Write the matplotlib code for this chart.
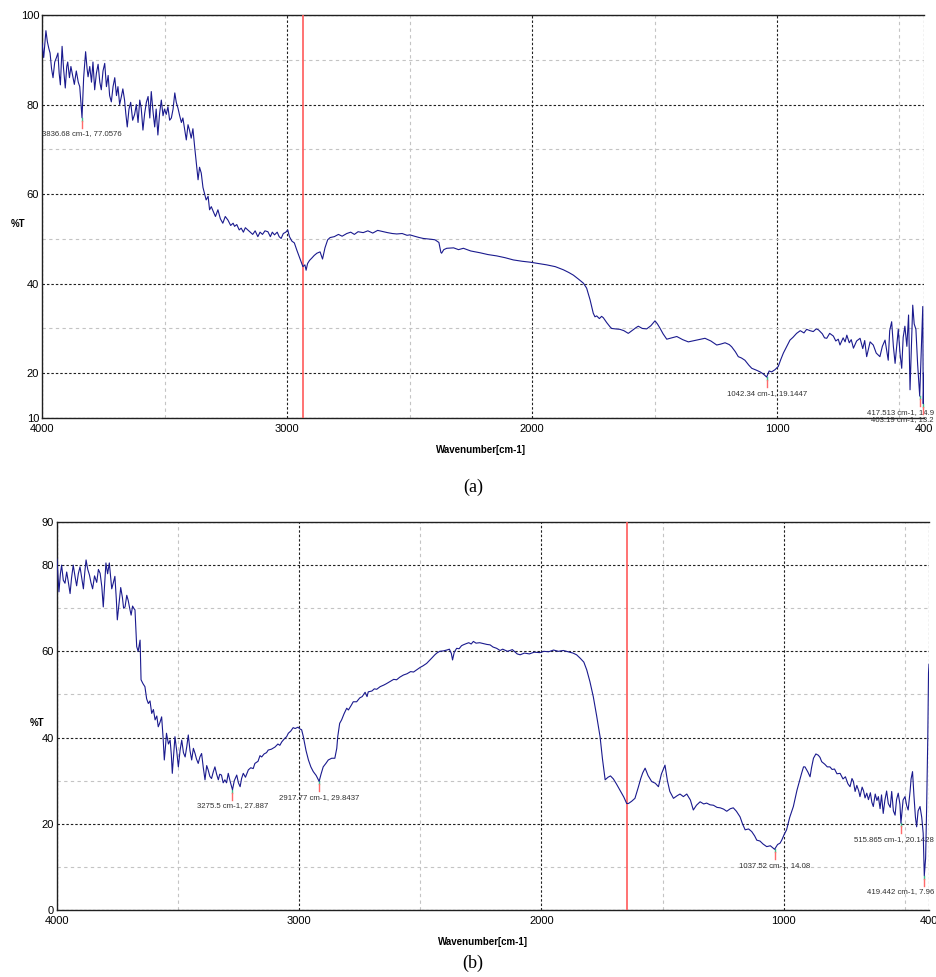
import matplotlib
matplotlib.use("Agg")
import matplotlib.pyplot as plt
import numpy as np

# spectrum (a): wavenumber [cm-1] and %T
wn_a = [4000, 3993, 3984, 3978, 3972, 3967, 3961, 3955, 3948, 3941, 3935, 3930, 3925, 3918, 3912,
        3905, 3899, 3895, 3888, 3882, 3875, 3868, 3860, 3852, 3846, 3836.68, 3830, 3822, 3816, 3812,
        3805, 3798, 3792, 3785, 3778, 3771, 3764, 3758, 3751, 3744, 3737, 3730, 3724, 3717, 3710,
        3703, 3696, 3690, 3683, 3676, 3670, 3663, 3658, 3652, 3645, 3638, 3630, 3622, 3615, 3608,
        3601, 3595, 3588, 3581, 3574, 3567, 3560, 3554, 3547, 3540, 3534, 3527, 3520, 3513, 3506,
        3500, 3493, 3486, 3479, 3472, 3465, 3458, 3452, 3445, 3438, 3431, 3425, 3418, 3411, 3404,
        3398, 3391, 3384, 3377, 3370, 3363, 3357, 3350, 3343, 3336, 3330, 3322, 3316, 3309, 3300,
        3292, 3282, 3272, 3262, 3252, 3241, 3230, 3220, 3214, 3205, 3195, 3187, 3178, 3170, 3160,
        3150, 3140, 3130, 3119, 3110, 3100, 3090, 3078, 3068, 3060, 3051, 3040, 3032, 3024, 3015,
        3005, 2997, 2990, 2980, 2970, 2960, 2950, 2940, 2935, 2927, 2922, 2916, 2908, 2899, 2889,
        2878, 2865, 2855, 2845, 2834, 2824, 2807, 2790, 2775, 2756, 2740, 2725, 2710, 2689, 2670,
        2650, 2630, 2607, 2590, 2570, 2552, 2530, 2510, 2498, 2480, 2460, 2444, 2425, 2410, 2396,
        2380, 2372, 2369, 2360, 2348, 2320, 2300, 2280, 2250, 2230, 2212, 2180, 2144, 2110, 2076,
        2040, 2008, 1975, 1940, 1905, 1872, 1850, 1831, 1810, 1790, 1777, 1763, 1750, 1743, 1736,
        1725, 1716, 1709, 1695, 1682, 1675, 1660, 1641, 1625, 1607, 1590, 1575, 1566, 1550, 1532,
        1515, 1498, 1488, 1478, 1465, 1450, 1430, 1409, 1385, 1362, 1345, 1328, 1310, 1294, 1270,
        1246, 1230, 1212, 1195, 1185, 1170, 1158, 1145, 1131, 1115, 1103, 1085, 1069, 1055, 1042.34,
        1032, 1022, 1008, 995, 985, 974, 960, 947, 935, 920, 905, 890, 879, 865, 852,
        840, 831, 815, 806, 797, 785, 770, 760, 750, 743, 730, 722, 715, 705, 697,
        688, 675, 661, 650, 642, 634, 620, 607, 595, 580, 570, 559, 546, 540, 532,
        525, 518, 510, 505, 498, 491, 485, 478, 470, 463, 457, 452, 446, 440, 433,
        426, 417.513, 411, 405, 403.19, 400]
t_a = [93.7, 90.5, 96.5, 94, 92.5, 91.5, 88, 86, 89.5, 90.5, 91.5, 87, 84.4, 93, 88,
       83.7, 88.5, 89.5, 86, 88.5, 86.5, 84.5, 87.5, 85, 84, 77.0576, 86, 91.8, 88, 86.2,
       88.5, 85, 89.5, 83.3, 87, 89, 85, 83.3, 87.5, 89.2, 84, 86.5, 82, 80.6, 84,
       86, 82, 84, 80, 81.8, 83.5, 81, 78, 75, 79, 80.5, 76.5, 77.8, 80, 76,
       81, 79.2, 74.3, 78, 80.5, 81.8, 77, 82.9, 78.5, 75, 79, 73.2, 78, 81, 77.5,
       79, 77.8, 79.5, 76.5, 77, 79, 82.6, 80.5, 79.2, 77.5, 76, 77, 74.5, 72.1, 75.5,
       74.3, 72.5, 74.6, 70.6, 67, 63.2, 66, 64.7, 61.5, 60, 58.7, 59.5, 56.5, 57.2, 56,
       55, 56.5, 54.5, 53.5, 55, 54.2, 53, 53.5, 52.8, 53.2, 52, 52.4, 51.5, 52.5, 52,
       51.5, 51, 51.8, 50.5, 51.5, 51, 51.8, 51.6, 50.5, 51.5, 50.9, 51.5, 50.5, 50.1, 51.2,
       51.5, 52, 50.5, 49.5, 49.1, 47.5, 46, 44.5, 43.8, 44.2, 43, 44.5, 45.2, 45.7, 46.3,
       46.8, 47.1, 45.5, 48, 49.8, 50.3, 50.5, 51, 50.6, 51.2, 51.5, 51, 51.6, 51.4, 51.8,
       51.3, 51.9, 51.6, 51.4, 51.2, 51.1, 51.2, 50.8, 50.9, 50.6, 50.3, 50.1, 50, 49.9, 49.8,
       49.2, 47, 46.8, 47.6, 47.9, 48, 47.6, 47.9, 47.3, 47.1, 46.9, 46.5, 46.2, 45.8, 45.3,
       45, 44.8, 44.5, 44.2, 43.8, 43.1, 42.5, 41.9, 41, 40.1, 39, 36.4, 33.4, 32.6, 32.8,
       32.2, 32.7, 32.4, 31.3, 30.4, 30, 29.9, 29.8, 29.5, 28.9, 29.6, 30.2, 30.5, 30, 29.9,
       30.6, 31.7, 31, 30.1, 28.8, 27.6, 27.9, 28.2, 27.5, 27, 27.2, 27.4, 27.6, 27.8, 27.2,
       26.3, 26.5, 26.8, 26.4, 25.9, 24.8, 23.7, 23.4, 22.9, 21.8, 21.1, 20.7, 20.3, 19.8, 19.1447,
       20.5, 20.3, 20.8, 21.5, 23, 24.5, 26, 27.4, 28, 28.9, 29.5, 29, 29.8, 29.5, 29.3,
       29.9, 29.7, 28.8, 27.9, 27.8, 28.9, 28.3, 27.2, 27.6, 26.3, 27.9, 27, 28.5, 26.8, 27.5,
       25.6, 27.2, 27.8, 25.5, 27.3, 23.7, 27, 26.3, 24.5, 23.7, 26, 27.4, 22.9, 29.5, 31.5,
       26, 22.2, 27, 29.8, 24.5, 21.1, 28, 30.5, 26, 33, 16.3, 25, 35.2, 31, 29.8,
       22, 14.9, 25, 34.9, 13.2, 20]

# spectrum (b)
wn_b = [4000, 3992, 3986, 3981, 3974, 3967, 3960, 3953, 3946, 3940, 3933, 3926, 3919, 3912, 3905,
        3898, 3891, 3885, 3880, 3873, 3866, 3860, 3853, 3845, 3836, 3829, 3822, 3815, 3809, 3803,
        3798, 3791, 3784, 3778, 3774, 3767, 3761, 3755, 3751, 3744, 3737, 3730, 3725, 3719, 3712,
        3706, 3700, 3694, 3688, 3682, 3678, 3671, 3665, 3657, 3653, 3645, 3637, 3630, 3623, 3616,
        3609, 3602, 3595, 3588, 3582, 3575, 3568, 3562, 3557, 3552, 3548, 3540, 3533, 3528, 3524,
        3518, 3513, 3506, 3499, 3492, 3485, 3478, 3471, 3464, 3458, 3451, 3444, 3437, 3430, 3424,
        3417, 3410, 3403, 3396, 3389, 3382, 3376, 3369, 3362, 3355, 3348, 3341, 3334, 3328, 3321,
        3314, 3307, 3300, 3293, 3285, 3275.5, 3268, 3258, 3251, 3244, 3238, 3231, 3222, 3210, 3200,
        3190, 3183, 3170, 3162, 3155, 3145, 3135, 3128, 3115, 3100, 3088, 3080, 3072, 3060, 3052,
        3045, 3035, 3025, 3017, 3005, 2997, 2990, 2983, 2972, 2962, 2952, 2942, 2930, 2917.77, 2910,
        2901, 2890, 2880, 2866, 2853, 2845, 2841, 2833, 2825, 2815, 2804, 2797, 2785, 2777, 2763,
        2750, 2740, 2728, 2720, 2715, 2700, 2690, 2680, 2666, 2650, 2640, 2625, 2610, 2598, 2585,
        2570, 2555, 2540, 2528, 2515, 2500, 2490, 2474, 2460, 2450, 2440, 2432, 2420, 2405, 2391,
        2380, 2372, 2367, 2360, 2350, 2340, 2330, 2323, 2310, 2300, 2290, 2281, 2270, 2255, 2240,
        2225, 2212, 2200, 2185, 2171, 2160, 2140, 2120, 2100, 2088, 2070, 2050, 2030, 2006, 1990,
        1970, 1950, 1930, 1910, 1890, 1870, 1855, 1840, 1825, 1813, 1800, 1786, 1772, 1758, 1748,
        1737, 1725, 1715, 1703, 1690, 1676, 1660, 1648, 1641, 1628, 1614, 1600, 1590, 1582, 1572,
        1560, 1545, 1530, 1517, 1505, 1490, 1480, 1470, 1455, 1440, 1428, 1414, 1400, 1385, 1373,
        1360, 1345, 1330, 1318, 1304, 1290, 1275, 1262, 1248, 1235, 1220, 1208, 1195, 1180, 1170,
        1159, 1145, 1132, 1120, 1111, 1098, 1085, 1070, 1055, 1037.52, 1025, 1015, 1008, 998, 988,
        975, 960, 945, 926, 918, 912, 900, 891, 885, 877, 867, 857, 850, 843, 830,
        820, 809, 800, 790, 780, 767, 755, 745, 735, 726, 718, 712, 705, 698, 690,
        685, 676, 670, 664, 657, 650, 642, 636, 630, 622, 615, 609, 602, 596, 589,
        582, 575, 568, 560, 554, 547, 540, 534, 527, 520, 515.865, 507, 499, 492, 486,
        478, 474, 468, 462, 456, 451, 445, 437, 430, 424, 419.442, 414, 410, 405, 402,
        400]
t_b = [81.4, 73.8, 78, 80, 76.5, 75.8, 78.4, 76, 73.4, 77, 80, 77.5, 75.2, 78, 79.6,
       77, 74.5, 78.5, 81.2, 79, 77.7, 76, 74.5, 77.5, 76, 79, 78.1, 75, 70.3, 76,
       80.5, 78, 80.5, 77, 74.5, 76, 77.4, 72, 67.3, 71, 74.8, 72.5, 70, 70.3, 73,
       71.8, 70, 68.4, 70.5, 69.9, 69.6, 61.1, 60, 62.6, 53.4, 52.5, 51.8, 49, 47.9, 48.5,
       45.6, 46.5, 44.1, 45, 42.5, 43.5, 44.8, 40, 34.8, 38, 41, 38.5, 39.4, 36, 31.7,
       36.5, 40.2, 37, 33.2, 37, 39.4, 36.5, 35.5, 38, 40.6, 37, 34.8, 37.5, 36.3, 35,
       34, 35.5, 36.3, 33, 30.2, 33.5, 32.5, 31, 30.5, 32, 33.2, 31.5, 30.2, 31.5, 31.3,
       29.5, 30.2, 29.5, 31.7, 29.8, 27.887, 30, 31.3, 29.5, 28.6, 30.5, 31.7, 30.8, 32.5, 33,
       32.8, 34, 34.5, 35.8, 35.5, 36.2, 36.5, 37.1, 37.3, 37.8, 38.5, 38.2, 39, 39.8, 40.2,
       41, 41.5, 42.3, 42.1, 42.4, 42, 41.8, 40.2, 37, 34.8, 33.2, 32.1, 31.2, 29.8437, 31.5,
       33.2, 34, 34.8, 35.2, 35.2, 37.5, 40.2, 43.3, 44.1, 45.5, 46.8, 46.4, 47.5, 48.3, 48.3,
       49.2, 49.5, 50.5, 49.5, 50.6, 50.8, 51.3, 51.2, 51.8, 52.2, 52.5, 53, 53.5, 53.4, 54,
       54.5, 54.8, 55.3, 55.2, 55.7, 56.3, 56.6, 57.2, 58, 58.6, 59.2, 59.6, 60, 60.1, 60.3,
       60.5, 59.5, 58, 59.8, 60.7, 60.6, 61.3, 61.5, 61.8, 62, 61.7, 62.3, 61.9, 62, 61.8,
       61.6, 61.5, 61, 60.7, 60.2, 60.5, 60, 60.4, 59.4, 59.2, 59.6, 59.4, 59.8, 59.7, 60,
       59.9, 60.3, 60, 60.2, 59.9, 59.6, 59.2, 58.4, 57.5, 55.7, 53, 49.5, 45, 40.2, 35,
       30.2, 30.8, 31.1, 30.4, 29.2, 27.8, 26.2, 24.7, 24.7, 25.2, 25.9, 28.5, 30.5, 31.8, 32.9,
       31.2, 29.8, 29.4, 28.6, 31.5, 33.6, 30, 27.5, 25.9, 26.5, 26.9, 26.3, 26.9, 25.5, 23.2,
       24.3, 25.1, 24.6, 24.8, 24.4, 24.3, 23.8, 23.7, 23.4, 22.9, 23.5, 23.7, 22.9, 21.6, 20,
       18.6, 18.8, 18.2, 17.2, 16.2, 16, 15.3, 14.7, 14.9, 14.08, 15.2, 15.5, 16.2, 17.5, 18.6,
       21.5, 24, 27.8, 31.7, 33.2, 33.2, 32, 30.9, 33, 35.2, 36.2, 35.9, 35.4, 34.4, 33.8,
       33.2, 33.2, 32.6, 32.7, 31.6, 31.7, 30.4, 30.9, 29.3, 28.6, 30.5, 29.8, 27.5, 28.9, 27.6,
       26.3, 28.5, 27.6, 26, 27.1, 25.6, 27.2, 25, 24, 26.9, 25.4, 26.3, 23.5, 26.7, 22.4,
       25.5, 27.6, 24.7, 23.8, 27.5, 23, 22, 25.6, 27.1, 24.5, 20.14, 25.5, 26.3, 24.2, 23.2,
       27.6, 30.4, 32.1, 26.4, 21.5, 19.3, 23, 24, 21.5, 17.8, 7.96, 12, 23, 40, 55,
       57]

# picked peaks (wavenumber, %T, label)
peaks_a = [(3836.68, 77.0576, "3836.68 cm-1, 77.0576"),
           (1042.34, 19.1447, "1042.34 cm-1, 19.1447"),
           (417.513, 14.9, "417.513 cm-1, 14.9"),
           (403.19, 13.2, "403.19 cm-1, 13.2")]
peaks_b = [(3275.5, 27.887, "3275.5 cm-1, 27.887"),
           (2917.77, 29.8437, "2917.77 cm-1, 29.8437"),
           (1037.52, 14.08, "1037.52 cm-1, 14.08"),
           (515.865, 20.14, "515.865 cm-1, 20.1428"),
           (419.442, 7.96, "419.442 cm-1, 7.96")]

cursor_a = 2935
cursor_b = 1645

yticks_a = [10, 20, 40, 60, 80, 100]
yminor_a = [30, 50, 70, 90]
yticks_b = [0, 20, 40, 60, 80, 90]
yminor_b = [10, 30, 50, 70]
xticks = [4000, 3000, 2000, 1000, 400]
xminor = [3500, 2500, 1500, 500]

W, H = 937, 977
fig = plt.figure(figsize=(W / 100, H / 100), dpi=100)
LINE = '#1a1a8e'
SANS = 'Liberation Sans'


def setup(ax, ylim, yticks, yminor):
    ax.set_xlim(4000, 400)
    ax.set_ylim(*ylim)
    ax.set_xticks(xticks)
    ax.set_xticks(xminor, minor=True)
    ax.set_yticks(yticks)
    ax.set_yticks(yminor, minor=True)
    ax.set_xticklabels([str(v) for v in xticks], fontsize=8, family=SANS)
    ax.set_yticklabels([str(v) for v in yticks], fontsize=8, family=SANS)
    ax.tick_params(which='both', length=0)
    ax.tick_params(axis='x', pad=4)
    ax.tick_params(axis='y', pad=2)
    ax.grid(which='major', color='#202020', ls=(0, (2.2, 1.8)), lw=0.8)
    ax.grid(which='minor', color='#c4c4c4', ls=(0, (3, 3)), lw=0.8)
    ax.set_axisbelow(True)
    for s in ['top', 'left', 'bottom']:
        ax.spines[s].set_color('#202020')
        ax.spines[s].set_linewidth(1.0)
    ax.spines['right'].set_visible(False)


def mark_peaks(ax, peaks, px_per_unit):
    right_px = ax.get_position().x1 * W
    for x, v, lab in peaks:
        g = 3 / px_per_unit
        r = 10 / px_per_unit
        ax.plot([x, x], [v, v - g], color='#3cc08c', lw=1.0, zorder=4, clip_on=False)
        ax.plot([x, x], [v - g, v - r], color='#ff6a6a', lw=1.0, zorder=4, clip_on=False)
        if x < 600:
            # labels near the right edge are pushed left so they stay on the page
            ax.annotate(lab, (x, v), xytext=(W - 3, -16),
                        textcoords=('figure pixels', 'offset pixels'),
                        ha='right', va='center', fontsize=5.6, family=SANS,
                        color='#303030', annotation_clip=False)
        else:
            ax.annotate(lab, (x, v), xytext=(0, -16), textcoords='offset pixels',
                        ha='center', va='center', fontsize=5.6, family=SANS,
                        color='#303030', annotation_clip=False)


# panel (a)
ax1 = fig.add_axes([42 / W, 1 - 418 / H, (924 - 42) / W, (418 - 15) / H])
setup(ax1, (10, 100), yticks_a, yminor_a)
ax1.axvline(cursor_a, color='#ff5a5a', lw=1.2, zorder=3)
ax1.plot(wn_a, t_a, color=LINE, lw=0.8, zorder=5)
mark_peaks(ax1, peaks_a, 403 / 90)

# panel (b)
ax2 = fig.add_axes([57 / W, 1 - 910 / H, (929 - 57) / W, (910 - 522) / H])
setup(ax2, (0, 90), yticks_b, yminor_b)
ax2.axvline(cursor_b, color='#ff5a5a', lw=1.2, zorder=3)
ax2.plot(wn_b, t_b, color=LINE, lw=0.8, zorder=5)
mark_peaks(ax2, peaks_b, 388 / 90)

# axis titles and panel letters
fig.text(18 / W, 1 - 224 / H, '%T', fontsize=7, weight='bold', family=SANS,
         ha='center', va='center')
fig.text(37 / W, 1 - 723 / H, '%T', fontsize=7, weight='bold', family=SANS,
         ha='center', va='center')
fig.text(481 / W, 1 - 450 / H, 'Wavenumber[cm-1]', fontsize=7, weight='bold',
         family=SANS, ha='center', va='center')
fig.text(483 / W, 1 - 942 / H, 'Wavenumber[cm-1]', fontsize=7, weight='bold',
         family=SANS, ha='center', va='center')
fig.text(473 / W, 1 - 487 / H, '(a)', fontsize=13, family='Liberation Serif',
         ha='center', va='center')
fig.text(473 / W, 1 - 963 / H, '(b)', fontsize=13, family='Liberation Serif',
         ha='center', va='center')

fig.savefig('out.png', dpi=100)
